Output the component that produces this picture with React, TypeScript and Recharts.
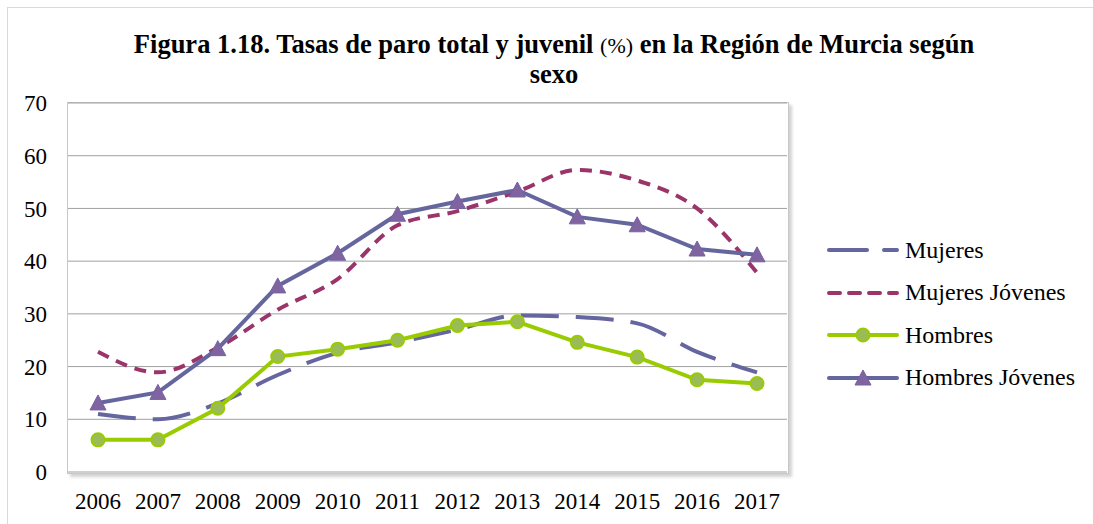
import { LineChart, Line, XAxis, YAxis, CartesianGrid } from 'recharts';

const years = ['2006', '2007', '2008', '2009', '2010', '2011', '2012', '2013', '2014', '2015', '2016', '2017'];
const mujeres = [11.0, 10.0, 13.0, 18.4, 22.6, 24.6, 27.0, 29.7, 29.4, 28.2, 22.8, 18.9];
const mujeresJovenes = [22.8, 18.9, 23.6, 30.8, 36.6, 46.8, 49.5, 53.2, 57.3, 55.3, 50.0, 37.8];
const hombres = [6.1, 6.1, 12.1, 21.9, 23.3, 25.0, 27.8, 28.5, 24.6, 21.8, 17.5, 16.8];
const hombresJovenes = [13.1, 15.1, 23.4, 35.3, 41.5, 48.9, 51.3, 53.5, 48.4, 46.9, 42.3, 41.2];
const yTicks = [0, 10, 20, 30, 40, 50, 60, 70];

const data = years.map((year, i) => ({
  year,
  mujeres: mujeres[i],
  mujeresJovenes: mujeresJovenes[i],
  hombres: hombres[i],
  hombresJovenes: hombresJovenes[i],
}));

const FONT = '"Liberation Serif", "Times New Roman", serif';
const COLORS = {
  mujeres: '#65659F',
  mujeresJovenes: '#9B3469',
  hombres: '#99CC00',
  hombresFill: '#9BBB59',
  hombresJovenes: '#66669F',
  triangle: '#8064A2',
};

// triangle marker for "Hombres Jóvenes"
function TriangleDot(props: any) {
  const { cx, cy, index } = props;
  if (cx == null || cy == null) return null;
  const h = 14;
  const w = 16;
  return (
    <polygon
      key={`tri-${index}`}
      points={`${cx},${cy - h / 2 - 1} ${cx - w / 2},${cy + h / 2} ${cx + w / 2},${cy + h / 2}`}
      fill={COLORS.triangle}
      stroke="#7462A0"
      strokeWidth={1}
    />
  );
}

const legendItems = [
  { name: 'Mujeres', kind: 'mujeres' },
  { name: 'Mujeres Jóvenes', kind: 'mujeresJovenes' },
  { name: 'Hombres', kind: 'hombres' },
  { name: 'Hombres Jóvenes', kind: 'hombresJovenes' },
];

function LegendSample({ kind }: { kind: string }) {
  return (
    <svg width={72} height={20} style={{ display: 'block' }}>
      {kind === 'mujeres' && (
        <line x1={2} y1={10} x2={70} y2={10} stroke={COLORS.mujeres} strokeWidth={4}
          strokeDasharray="38 17" strokeLinecap="round" />
      )}
      {kind === 'mujeresJovenes' && (
        <line x1={2} y1={10} x2={70} y2={10} stroke={COLORS.mujeresJovenes} strokeWidth={4}
          strokeDasharray="11 9" strokeLinecap="round" />
      )}
      {kind === 'hombres' && (
        <g>
          <line x1={2} y1={10} x2={70} y2={10} stroke={COLORS.hombres} strokeWidth={4} strokeLinecap="round" />
          <circle cx={36} cy={10} r={6.5} fill={COLORS.hombresFill} stroke={COLORS.hombres} strokeWidth={2} />
        </g>
      )}
      {kind === 'hombresJovenes' && (
        <g>
          <line x1={2} y1={10} x2={70} y2={10} stroke={COLORS.hombresJovenes} strokeWidth={4} strokeLinecap="round" />
          <polygon points="36,2 28,17 44,17" fill={COLORS.triangle} stroke="#7462A0" strokeWidth={1} />
        </g>
      )}
    </svg>
  );
}

export default function App() {
  return (
    <div style={{ position: 'absolute', left: 0, top: 0, width: 1093, height: 524, background: '#fff', overflow: 'hidden', fontFamily: FONT }}>
      {/* outer chart border */}
      <div style={{ position: 'absolute', left: 7, top: 7, width: 1100, height: 530, border: '1px solid #d9d9d9' }} />

      {/* Title */}
      <div style={{ position: 'absolute', left: 54, top: 30, width: 1000, textAlign: 'center', fontSize: 26.5, fontWeight: 'bold', lineHeight: '29px', color: '#000' }}>
        Figura 1.18. Tasas de paro total y juvenil{' '}
        <span style={{ fontWeight: 'normal', fontSize: 22 }}>(%)</span> en la Región de Murcia según
        <br />
        sexo
      </div>

      {/* plot area frame */}
      <div style={{ position: 'absolute', left: 67, top: 102, width: 720, height: 370, border: '1px solid #c8c8c8', boxShadow: '3px 3px 3px rgba(0,0,0,0.18)' }} />

      <div style={{ position: 'absolute', left: 0, top: 0 }}>
        <LineChart width={1093} height={524} data={data} margin={{ top: 103, right: 306, bottom: 0, left: 8 }}>
          <CartesianGrid horizontal vertical={false} stroke="#a0a0a0" strokeWidth={1} />
          <XAxis
            dataKey="year"
            height={52}
            padding={{ left: 30, right: 30 }}
            axisLine={false}
            tickLine={false}
            tickSize={0}
            tickMargin={21}
            interval={0}
            tick={{ fill: '#000', fontSize: 23, fontFamily: FONT }}
          />
          <YAxis
            width={60}
            domain={[0, 70]}
            ticks={yTicks}
            axisLine={false}
            tickLine={false}
            tickSize={0}
            tickMargin={21}
            tick={{ fill: '#000', fontSize: 23, fontFamily: FONT }}
          />
          <Line
            type="monotone"
            dataKey="mujeres"
            stroke={COLORS.mujeres}
            strokeWidth={4}
            strokeDasharray="38 17"
            dot={false}
            isAnimationActive={false}
          />
          <Line
            type="monotone"
            dataKey="mujeresJovenes"
            stroke={COLORS.mujeresJovenes}
            strokeWidth={4}
            strokeDasharray="12 8"
            dot={false}
            isAnimationActive={false}
          />
          <Line
            type="linear"
            dataKey="hombres"
            stroke={COLORS.hombres}
            strokeWidth={4}
            dot={{ r: 6.5, fill: COLORS.hombresFill, stroke: COLORS.hombres, strokeWidth: 2 }}
            isAnimationActive={false}
          />
          <Line
            type="linear"
            dataKey="hombresJovenes"
            stroke={COLORS.hombresJovenes}
            strokeWidth={4}
            dot={<TriangleDot />}
            isAnimationActive={false}
          />
        </LineChart>
      </div>

      {/* Legend */}
      <div style={{ position: 'absolute', left: 827, top: 229 }}>
        {legendItems.map((item) => (
          <div key={item.name} style={{ display: 'flex', alignItems: 'center', height: 42.5 }}>
            <LegendSample kind={item.kind} />
            <span style={{ fontSize: 24, marginLeft: 6, color: '#000', whiteSpace: 'nowrap' }}>{item.name}</span>
          </div>
        ))}
      </div>
    </div>
  );
}
